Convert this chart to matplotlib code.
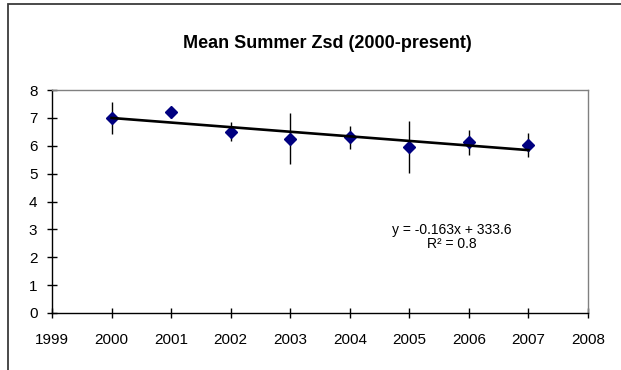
import numpy as np
import matplotlib
matplotlib.use('Agg')
import matplotlib.pyplot as plt
from matplotlib.patches import Rectangle

# Data
years = [2000, 2001, 2002, 2003, 2004, 2005, 2006, 2007]
zsd_mean = [7.0, 7.2, 6.5, 6.26, 6.3, 5.96, 6.12, 6.02]
zsd_err = [0.58, 0.2, 0.34, 0.92, 0.4, 0.94, 0.45, 0.42]
x_ticks = list(range(1999, 2009))
y_ticks = list(range(0, 9))

plt.rcParams['font.family'] = ['Liberation Sans', 'DejaVu Sans']

fig = plt.figure(figsize=(6.21, 3.70), dpi=100)
ax = fig.add_axes([52 / 621, 57 / 370, 536 / 621, 223 / 370])

# Outer chart border (only left and top visible in the reference)
fig.patches.append(Rectangle((8 / 621, -0.2), 1.2, (366 / 370) + 0.2,
                             transform=fig.transFigure, fill=False,
                             edgecolor='#3a3a3a', linewidth=1.3))

# Error bars and points
ax.errorbar(years, zsd_mean, yerr=zsd_err, fmt='none', ecolor='black',
            elinewidth=1.0, capsize=0, zorder=2)
ax.plot(years, zsd_mean, linestyle='none', marker='D', markersize=6,
        color='#000080', zorder=3)

# Linear trend line
slope, intercept = np.polyfit(years, zsd_mean, 1)
fit_x = np.array([years[0], years[-1]])
ax.plot(fit_x, slope * fit_x + intercept, color='black', linewidth=1.9, zorder=4)

ax.text(2005.72, 2.97, 'y = -0.163x + 333.6', ha='center', va='center', fontsize=10)
ax.text(2005.72, 2.47, 'R² = 0.8', ha='center', va='center', fontsize=10)

ax.set_xlim(1999, 2008)
ax.set_ylim(0, 8)
ax.set_xticks(x_ticks)
ax.set_yticks(y_ticks)
ax.tick_params(axis='both', direction='inout', length=7, width=1, labelsize=11)
ax.tick_params(axis='x', pad=11)
ax.tick_params(axis='y', pad=7)

for side in ['top', 'right']:
    ax.spines[side].set_color('#808080')
    ax.spines[side].set_linewidth(1)
for side in ['left', 'bottom']:
    ax.spines[side].set_color('black')
    ax.spines[side].set_linewidth(1)

fig.text(327 / 621, 1 - 43 / 370, 'Mean Summer Zsd (2000-present)',
         ha='center', va='center', fontsize=13, fontweight='bold')

fig.savefig('out.png', dpi=100)
